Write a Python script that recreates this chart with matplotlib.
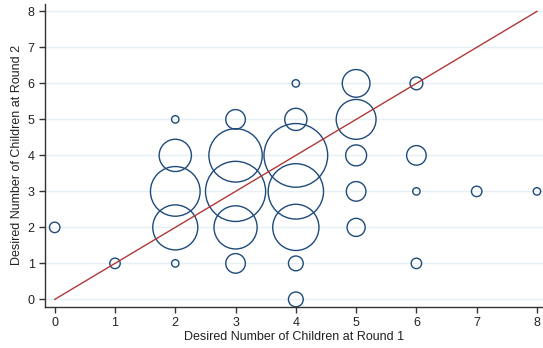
import matplotlib.pyplot as plt
import numpy as np

plt.rcParams['font.family'] = ['Liberation Sans', 'DejaVu Sans']

# desired number of children: round 1 (x), round 2 (y), and frequency
round1 = [0, 1, 2, 2, 2, 2, 2, 3, 3, 3, 3, 3, 4, 4, 4, 4, 4, 4, 4,
          5, 5, 5, 5, 5, 6, 6, 6, 6, 7, 8]
round2 = [2, 1, 1, 2, 3, 4, 5, 1, 2, 3, 4, 5, 0, 1, 2, 3, 4, 5, 6,
          2, 3, 4, 5, 6, 1, 3, 4, 6, 3, 3]
freq = [2, 2, 1, 37, 45, 19, 1, 7, 34, 66, 52, 7, 4, 4, 39, 56, 74, 9, 1,
        6, 7, 8, 29, 14, 2, 1, 7, 3, 2, 1]
ticks = [0, 1, 2, 3, 4, 5, 6, 7, 8]

navy = '#1f4a7a'
grey = '#333333'

fig = plt.figure(figsize=(5.43, 3.48), dpi=100)
ax = fig.add_axes([0.083, 0.119, 0.917, 0.870])

ax.scatter(round1, round2, s=np.array(freq) * 28.4, facecolors='none',
           edgecolors=navy, linewidths=1.0, zorder=2)
ax.plot([ticks[0], ticks[-1]], [ticks[0], ticks[-1]], color='#b03838',
        linewidth=1.0, zorder=3)

ax.set_xlim(-0.16, 8.1)
ax.set_ylim(-0.2, 8.21)
ax.set_xticks(ticks)
ax.set_yticks(ticks)
ax.grid(axis='y', color='#e6eff3', linewidth=1.0, zorder=0)
ax.set_axisbelow(True)

for side in ['top', 'right']:
    ax.spines[side].set_visible(False)
for side in ['left', 'bottom']:
    ax.spines[side].set_color(grey)
    ax.spines[side].set_linewidth(1.0)

ax.tick_params(axis='both', colors=grey, labelsize=9, length=4, width=1,
               labelcolor='#222222')

ax.set_xlabel('Desired Number of Children at Round 1', fontsize=9,
              color='#222222', labelpad=1.5)
ax.set_ylabel('Desired Number of Children at Round 2', fontsize=9,
              color='#222222', labelpad=3)

fig.savefig('out.png', dpi=100)
